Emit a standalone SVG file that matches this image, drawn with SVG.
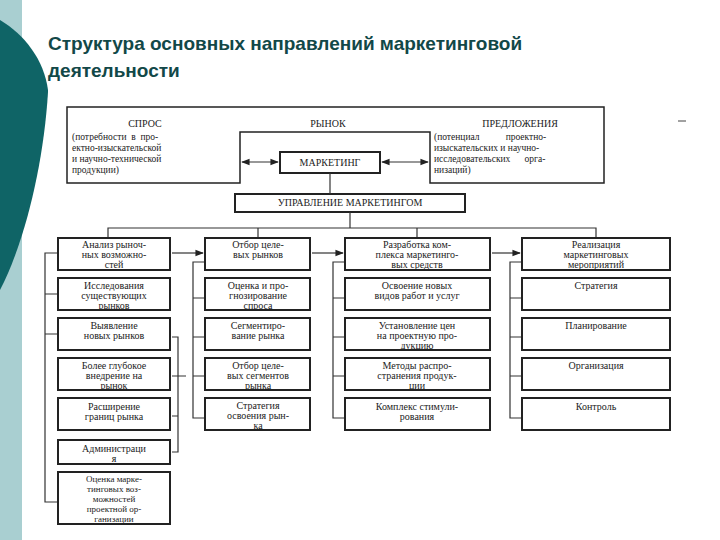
<svg xmlns="http://www.w3.org/2000/svg" width="720" height="540" viewBox="0 0 720 540">
<defs>
<marker id="a" viewBox="0 0 10 10" refX="9" refY="5" markerWidth="7" markerHeight="7" orient="auto-start-reverse"><path d="M0,1 L10,5 L0,9 Z" fill="#222"/></marker>
<style>
.b{fill:#fff;stroke:#222;stroke-width:2}
.l{fill:none;stroke:#333;stroke-width:1.2}
.t{font-family:"Liberation Serif",serif;font-size:10px;fill:#222;text-anchor:middle}
.u{font-family:"Liberation Serif",serif;font-size:9px;fill:#222;text-anchor:middle}
.s{font-family:"Liberation Serif",serif;font-size:9.5px;fill:#222;white-space:pre}
.ttl{font-family:"Liberation Sans",Arial,sans-serif;font-size:19px;font-weight:bold;fill:#124848}
</style>
</defs>
<rect width="720" height="540" fill="#fff"/>
<g id="decor">
<rect x="0" y="0" width="22" height="540" fill="#a9cfd1"/>
<path d="M0,20 C25,35 44,60 48,90 L48,92 C44,160 26,240 0,290 Z" fill="#0f6466"/>
<line x1="678" y1="121" x2="686" y2="121" stroke="#444" stroke-width="1"/>
</g>
<g id="title">
<text class="ttl" x="48" y="50">Структура основных направлений маркетинговой</text>
<text class="ttl" x="48" y="77">деятельности</text>
</g>
<g id="market">
<path d="M67,107 H604 V183 H430 V132 H240 V183 H67 Z" fill="#fff" stroke="#222" stroke-width="1.5"/>
<text class="t" x="145" y="127">СПРОС</text>
<text class="t" x="328" y="127">РЫНОК</text>
<text class="t" x="520" y="127">ПРЕДЛОЖЕНИЯ</text>
<text class="s" x="72" y="140">(потребности  в  про-</text>
<text class="s" x="72" y="151">ектно-изыскательской</text>
<text class="s" x="72" y="162">и научно-технической</text>
<text class="s" x="72" y="173">продукции)</text>
<text class="s" x="434" y="140" xml:space="preserve">(потенциал           проектно-</text>
<text class="s" x="434" y="151">изыскательских и научно-</text>
<text class="s" x="434" y="162" xml:space="preserve">исследовательских      орга-</text>
<text class="s" x="434" y="173">низаций)</text>
</g>
<g id="marketing"><rect class="b" x="280" y="152" width="100" height="21"/><text class="t" x="330" y="166">МАРКЕТИНГ</text></g>
<g id="upr"><rect class="b" x="235" y="194" width="230" height="18"/><text class="t" x="350" y="206">УПРАВЛЕНИЕ МАРКЕТИНГОМ</text></g>
<g id="connectors">
<line class="l" x1="242" y1="162" x2="278" y2="162" marker-start="url(#a)" marker-end="url(#a)"/>
<line class="l" x1="382" y1="162" x2="428" y2="162" marker-start="url(#a)" marker-end="url(#a)"/>
<line class="l" x1="330" y1="173" x2="330" y2="194"/>
<line class="l" x1="350" y1="212" x2="350" y2="228"/>
<path class="l" d="M108,238 V228 H596 V238 M258,228 V238 M417,228 V238"/>
<line class="l" x1="172" y1="253" x2="203" y2="253" marker-end="url(#a)"/>
<line class="l" x1="312" y1="253" x2="343" y2="253" marker-end="url(#a)"/>
<line class="l" x1="492" y1="253" x2="520" y2="253" marker-end="url(#a)"/>
<path class="l" d="M58,253 H45 V502 H58 M45,294 H58 M45,334 H58"/>
<path class="l" d="M172,337 H178 V452 H172 M172,376 H178 M172,416 H178 M178,376 H186"/>
<path class="l" d="M205,262 H193 V418 H205 M193,298 H205 M193,337 H205 M193,376 H205"/>
<path class="l" d="M345,262 H333 V418 H345 M333,298 H345 M333,337 H345 M333,376 H345"/>
<path class="l" d="M522,262 H510 V418 H522 M510,298 H522 M510,337 H522 M510,376 H522"/>
</g>
<g id="col1">
<rect class="b" x="58" y="238" width="112" height="32"/><text class="t" x="114" y="248">Анализ рыноч-</text><text class="t" x="114" y="258">ных возможно-</text><text class="t" x="114" y="268">стей</text>
<rect class="b" x="58" y="278" width="112" height="32"/><text class="t" x="114" y="289">Исследования</text><text class="t" x="114" y="299">существующих</text><text class="t" x="114" y="309">рынков</text>
<rect class="b" x="58" y="318" width="112" height="32"/><text class="t" x="114" y="329">Выявление</text><text class="t" x="114" y="339">новых рынков</text>
<rect class="b" x="58" y="358" width="112" height="32"/><text class="t" x="114" y="369">Более глубокое</text><text class="t" x="114" y="379">внедрение на</text><text class="t" x="114" y="389">рынок</text>
<rect class="b" x="58" y="398" width="112" height="32"/><text class="t" x="114" y="410">Расширение</text><text class="t" x="114" y="420">границ рынка</text>
<rect class="b" x="58" y="440" width="112" height="24"/><text class="t" x="114" y="452">Администраци</text><text class="t" x="114" y="462">я</text>
<rect class="b" x="58" y="472" width="112" height="52"/><text class="u" x="114" y="482">Оценка марке-</text><text class="u" x="114" y="492">тинговых воз-</text><text class="u" x="114" y="502">можностей</text><text class="u" x="114" y="512">проектной ор-</text><text class="u" x="114" y="522">ганизации</text>
</g>
<g id="col2">
<rect class="b" x="205" y="238" width="105" height="32"/><text class="t" x="258" y="248">Отбор целе-</text><text class="t" x="258" y="258">вых рынков</text>
<rect class="b" x="205" y="278" width="105" height="32"/><text class="t" x="258" y="289">Оценка и про-</text><text class="t" x="258" y="299">гнозирование</text><text class="t" x="258" y="309">спроса</text>
<rect class="b" x="205" y="318" width="105" height="32"/><text class="t" x="258" y="329">Сегментиро-</text><text class="t" x="258" y="339">вание рынка</text>
<rect class="b" x="205" y="358" width="105" height="32"/><text class="t" x="258" y="369">Отбор целе-</text><text class="t" x="258" y="379">вых сегментов</text><text class="t" x="258" y="389">рынка</text>
<rect class="b" x="205" y="398" width="105" height="32"/><text class="t" x="258" y="409">Стратегия</text><text class="t" x="258" y="419">освоения рын-</text><text class="t" x="258" y="429">ка</text>
</g>
<g id="col3">
<rect class="b" x="345" y="238" width="145" height="32"/><text class="t" x="417" y="248">Разработка ком-</text><text class="t" x="417" y="258">плекса маркетинго-</text><text class="t" x="417" y="268">вых средств</text>
<rect class="b" x="345" y="278" width="145" height="32"/><text class="t" x="417" y="289">Освоение новых</text><text class="t" x="417" y="299">видов работ и услуг</text>
<rect class="b" x="345" y="318" width="145" height="32"/><text class="t" x="417" y="329">Установление цен</text><text class="t" x="417" y="339">на проектную про-</text><text class="t" x="417" y="349">дукцию</text>
<rect class="b" x="345" y="358" width="145" height="32"/><text class="t" x="417" y="369">Методы распро-</text><text class="t" x="417" y="379">странения продук-</text><text class="t" x="417" y="389">ции</text>
<rect class="b" x="345" y="398" width="145" height="32"/><text class="t" x="417" y="410">Комплекс стимули-</text><text class="t" x="417" y="420">рования</text>
</g>
<g id="col4">
<rect class="b" x="522" y="238" width="148" height="32"/><text class="t" x="596" y="248">Реализация</text><text class="t" x="596" y="258">маркетинговых</text><text class="t" x="596" y="268">мероприятий</text>
<rect class="b" x="522" y="278" width="148" height="32"/><text class="t" x="596" y="289">Стратегия</text>
<rect class="b" x="522" y="318" width="148" height="32"/><text class="t" x="596" y="329">Планирование</text>
<rect class="b" x="522" y="358" width="148" height="32"/><text class="t" x="596" y="369">Организация</text>
<rect class="b" x="522" y="398" width="148" height="32"/><text class="t" x="596" y="410">Контроль</text>
</g>
</svg>
